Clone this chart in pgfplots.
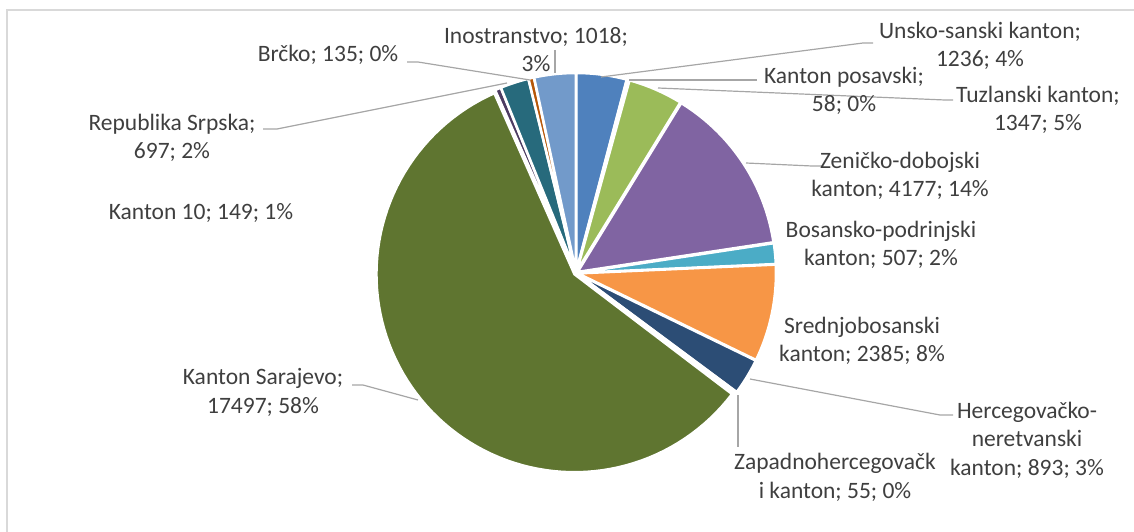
\documentclass[border=0pt]{standalone}
\usepackage{pgfplots}
\pgfplotsset{compat=1.18}
\usepackage{pgfplotstable}
\usepackage{fontspec}
\setmainfont{Carlito}
\definecolor{pc0}{HTML}{4F81BD}
\definecolor{pc1}{HTML}{C0504D}
\definecolor{pc2}{HTML}{9BBB59}
\definecolor{pc3}{HTML}{8064A2}
\definecolor{pc4}{HTML}{4BACC6}
\definecolor{pc5}{HTML}{F79646}
\definecolor{pc6}{HTML}{2C4D75}
\definecolor{pc7}{HTML}{772C2A}
\definecolor{pc8}{HTML}{5F7530}
\definecolor{pc9}{HTML}{4D3B62}
\definecolor{pc10}{HTML}{276A7C}
\definecolor{pc11}{HTML}{B65708}
\definecolor{pc12}{HTML}{729ACA}
\definecolor{labelgray}{HTML}{3F3F3F}
\definecolor{leadergray}{HTML}{A6A6A6}
\definecolor{framegray}{HTML}{D9D9D9}

\pgfplotstableread{
region value
Unsko 1236
Posavski 58
Tuzlanski 1347
Zenicko 4177
Bosansko 507
Srednjo 2385
HN 893
ZH 55
Sarajevo 17497
K10 149
RS 697
Brcko 135
Ino 1018
}\piedata

\def\cx{576}
\def\cy{273}
\def\rr{198}
\def\ex{2}

\begin{document}
\begin{tikzpicture}[
  leader/.style={draw=leadergray, line width=1.2pt},
  lab/.style={font=\fontsize{23.5}{28.5}\selectfont, text=labelgray, align=center, inner sep=0pt},
]
\def\pietotal{0}
\foreach \i in {0,...,12}{
  \pgfkeys{/pgf/fpu=true,/pgf/fpu/output format=fixed}
  \pgfplotstablegetelem{\i}{value}\of\piedata
  \pgfmathparse{\pietotal+\pgfplotsretval}
  \xdef\pietotal{\pgfmathresult}
}
\def\piecum{0}
\foreach \i in {0,...,12}{
  \pgfkeys{/pgf/fpu=true,/pgf/fpu/output format=fixed}
  \pgfplotstablegetelem{\i}{value}\of\piedata
  \pgfmathparse{360*\piecum/\pietotal-90}\let\a\pgfmathresult
  \pgfmathparse{\piecum+\pgfplotsretval}\let\newcum\pgfmathresult
  \pgfmathparse{360*\newcum/\pietotal-90}\let\b\pgfmathresult
  \pgfmathparse{(\a+\b)/2}\let\m\pgfmathresult
  \pgfmathparse{\cx+\ex*cos(\m)}\let\px\pgfmathresult
  \pgfmathparse{\cy+\ex*sin(\m)}\let\py\pgfmathresult
  \expandafter\xdef\csname pieA\i\endcsname{\a}
  \expandafter\xdef\csname pieB\i\endcsname{\b}
  \expandafter\xdef\csname pieX\i\endcsname{\px}
  \expandafter\xdef\csname pieY\i\endcsname{\py}
  \xdef\piecum{\newcum}
}
\begin{axis}[
  x=1pt, y=1pt, xmin=0, xmax=1134, ymin=0, ymax=532,
  y dir=reverse, hide axis, clip=false,
]
\addplot[draw=framegray, line width=1.5pt, mark=none] coordinates {(7,532) (7,10) (1134,10)};
\pgfplotsinvokeforeach{0,...,12}{
  \edef\tmp{\noexpand\addplot[fill=pc#1, draw=white, line width=2.5pt, line join=round, mark=none,
    domain=\csname pieA#1\endcsname:\csname pieB#1\endcsname, samples=90, variable=\noexpand\t]
    ({\csname pieX#1\endcsname+\rr*cos(\noexpand\t)},{\csname pieY#1\endcsname+\rr*sin(\noexpand\t)})
    -- (axis cs:\csname pieX#1\endcsname,\csname pieY#1\endcsname) -- cycle;}
  \tmp
}
% leader lines
\addplot[leader, mark=none] coordinates {(601,77) (863,43) (873,43)};
\addplot[leader, mark=none] coordinates {(629,80) (757,80)};
\addplot[leader, mark=none] coordinates {(658,88) (945,100) (953,100)};
\addplot[leader, mark=none] coordinates {(746,163) (812,166) (822,166)};
\addplot[leader, mark=none] coordinates {(750,379) (940,415) (953,415)};
\addplot[leader, mark=none] coordinates {(738,395) (738,447)};
\addplot[leader, mark=none] coordinates {(418,400) (363,385) (352,385)};
\addplot[leader, mark=none] coordinates {(507,83) (277,129) (263,129)};
\addplot[leader, mark=none] coordinates {(530,80) (418,62) (407,62)};
\addplot[leader, mark=none] coordinates {(555,50) (555,73)};
% labels
\node[lab] at (axis cs:536,49.5) {Inostranstvo; 1018;\\3\%};
\node[lab] at (axis cs:980,46) {Unsko-sanski kanton;\\1236; 4\%};
\node[lab] at (axis cs:844,91) {Kanton posavski;\\58; 0\%};
\node[lab] at (axis cs:1038,110) {Tuzlanski kanton;\\1347; 5\%};
\node[lab] at (axis cs:900,176) {Zeničko-dobojski\\kanton; 4177; 14\%};
\node[lab] at (axis cs:881,245) {Bosansko-podrinjski\\kanton; 507; 2\%};
\node[lab] at (axis cs:862,341) {Srednjobosanski\\kanton; 2385; 8\%};
\node[lab] at (axis cs:1027,440) {Hercegovačko-\\neretvanski\\kanton; 893; 3\%};
\node[lab] at (axis cs:835,477.5) {Zapadnohercegovačk\\i kanton; 55; 0\%};
\node[lab] at (axis cs:263,392.5) {Kanton Sarajevo;\\17497; 58\%};
\node[lab] at (axis cs:201,213) {Kanton 10; 149; 1\%};
\node[lab] at (axis cs:172,138) {Republika Srpska;\\697; 2\%};
\node[lab] at (axis cs:328,55) {Brčko; 135; 0\%};
\end{axis}
\pgfresetboundingbox
\path (current axis.south west) rectangle (current axis.north east);
\end{tikzpicture}
\end{document}
